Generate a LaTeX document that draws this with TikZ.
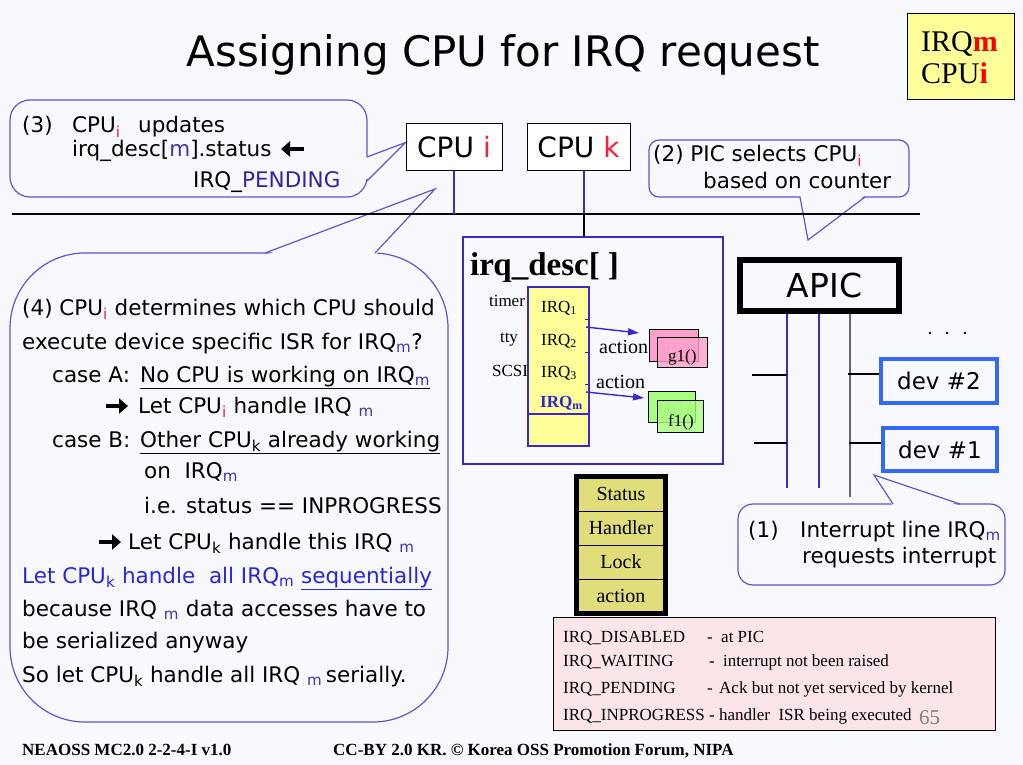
\documentclass[tikz,border=0pt]{standalone}
\usepackage{fontspec}
\setmainfont{DejaVu Sans}
\newfontfamily\tms{Liberation Serif}
\usetikzlibrary{arrows.meta}

\definecolor{bgc}{RGB}{248,249,255}
\definecolor{bubc}{RGB}{95,85,210}
\definecolor{redi}{RGB}{250,30,60}
\definecolor{subm}{RGB}{70,50,180}
\definecolor{txtblue}{RGB}{40,40,215}
\definecolor{pendc}{RGB}{50,35,165}
\definecolor{linblue}{RGB}{60,40,200}
\definecolor{devblue}{RGB}{50,105,250}
\definecolor{lemon}{RGB}{255,255,153}
\definecolor{khaki}{RGB}{224,221,122}
\definecolor{rosebg}{RGB}{251,229,233}
\definecolor{pinkf}{RGB}{255,160,205}
\definecolor{greenf}{RGB}{170,255,130}
\definecolor{pagenum}{RGB}{128,128,128}

\newcommand\subr[1]{\textsubscript{\textcolor{redi}{#1}}}
\newcommand\subb[1]{\textsubscript{\textcolor{subm}{#1}}}
\newcommand\subk[1]{\textsubscript{#1}}

\begin{document}
\begin{tikzpicture}[x=1pt,y=-1pt,
  txt/.style={inner sep=0pt, anchor=base west, font=\fontsize{21.5}{26}\selectfont},
  bub/.style={draw=bubc, line width=1.2pt},
  tailfill/.style={fill=bgc},
  serif/.style={inner sep=0pt, anchor=base west, font=\tms\fontsize{17}{20}\selectfont},
  cpubox/.style={draw=black, fill=white, line width=1pt, inner sep=0pt, font=\fontsize{28}{32}\selectfont},
  devbox/.style={draw=devblue, line width=4pt, inner sep=0pt, font=\fontsize{23}{28}\selectfont},
  wire/.style={line width=1.3pt, linblue},
  flow/.style={line width=1.4pt, linblue, -{Triangle[length=11pt,width=7pt]}},
  heavy/.style={line width=4.5pt, black, -{Triangle[length=9pt,width=15pt]}},
  stack/.style={draw=black, line width=1pt},
  row/.style={inner sep=0pt, font=\tms\fontsize{20}{24}\selectfont}
]
\fill[bgc] (0,0) rectangle (1023,765);
\useasboundingbox (0,0) rectangle (1023,765);

% title
\node[inner sep=0pt, anchor=base, font=\fontsize{42}{48}\selectfont] (title) at (503,67) {Assigning CPU for IRQ request};

% legend in the corner
\node[draw=black, fill=lemon, line width=1pt, minimum width=107pt, minimum height=86pt, inner sep=0pt] (legend) at (960.5,57) {};
\node[inner sep=0pt, anchor=base west, font=\tms\fontsize{30}{34}\selectfont] (legm) at (921,52) {IRQ\textcolor{red}{\textbf{m}}};
\node[inner sep=0pt, anchor=base west, font=\tms\fontsize{30}{34}\selectfont] (legi) at (921,84) {CPU\textcolor{red}{\textbf{i}}};

% ---------- callout (3)
\draw[bub, rounded corners=20pt] (10,100) rectangle (367,197);
\fill[tailfill] (364,157.5) -- (405,153) -- (364,180.5) -- cycle;
\coordinate (t3a) at (367,157);
\coordinate (t3b) at (367,181);
\node[txt] (c3n) at (22,133) {(3)};
\node[txt] (c3a) at (72,133) {CPU\subr{i}};
\node[txt] (c3b) at (138,133) {updates};
\node[txt] (c3c) at (72,157) {irq\_desc[\textcolor{subm}{m}].status};
\coordinate (c3as) at (304,149);
\coordinate (c3ae) at (281,149);
\draw[heavy] (c3as) -- (c3ae);
\node[txt] (c3d) at (193,187) {IRQ\_\textcolor{pendc}{PENDING}};

% ---------- callout (2)
\draw[bub, rounded corners=10pt] (649,140) rectangle (909,197);
\fill[tailfill] (800,195) -- (808,240) -- (865,195) -- cycle;
\coordinate (t2tip) at (808,240);
\draw[bub] (800,197) -- (t2tip) -- (865,197);
\node[txt] (c2a) at (653,162) {(2) PIC selects CPU\subr{i}};
\node[txt] (c2b) at (703,188) {based on counter};

% ---------- callout (1)
\draw[bub, rounded corners=15pt] (738,504) rectangle (1005,585);
\fill[tailfill] (893,506) -- (874,475) -- (960,506) -- cycle;
\coordinate (t1tip) at (874,475);
\draw[bub] (893,504) -- (t1tip) -- (960,504);
\node[txt] (c1n) at (748,537) {(1)};
\node[txt] (c1a) at (800,537) {Interrupt line IRQ\subb{m}};
\node[txt] (c1b) at (802,563) {requests interrupt};

% ---------- callout (4)
\draw[bub, rounded corners=75pt] (10,253) rectangle (448,722);
\fill[tailfill] (265,255.5) -- (435,189) -- (375,255.5) -- cycle;
\coordinate (t4tip) at (435,189);
\draw[bub] (265,253) -- (t4tip) -- (375,253);
\node[txt] (l1) at (22,315) {(4) CPU\subr{i} determines which CPU should};
\node[txt] (l2) at (22,349) {execute device specific ISR for IRQ\subb{m}?};
\node[txt] (l3a) at (52,382) {case A:};
\node[txt] (l3b) at (140,382) {\underline{No CPU is working on IRQ\subb{m}}};
\coordinate (r4s) at (106,406);
\coordinate (r4e) at (128,406);
\draw[heavy] (r4s) -- (r4e);
\node[txt] (l4) at (138,413) {Let CPU\subr{i} handle IRQ \subb{m}};
\node[txt] (l5a) at (52,447) {case B:};
\node[txt] (l5b) at (140,447) {\underline{Other CPU\subk{k} already working}};
\node[txt] (l6) at (144,478) {on\ \ IRQ\subb{m}};
\node[txt] (l7) at (144,513) {i.e. status == INPROGRESS};
\coordinate (r8s) at (99,542);
\coordinate (r8e) at (121,542);
\draw[heavy] (r8s) -- (r8e);
\node[txt] (l8) at (128,549) {Let CPU\subk{k} handle this IRQ \subb{m}};
\node[txt, text=txtblue] (l9) at (22,583) {Let CPU\subk{k} handle\ \ all IRQ\subk{m} \underline{sequentially}};
\node[txt] (l10) at (22,616) {because IRQ \subb{m} data accesses have to};
\node[txt] (l11) at (22,648) {be serialized anyway};
\node[txt] (l12) at (22,682) {So let CPU\subk{k} handle all IRQ \subb{m}\,serially.};

% ---------- CPUs and the bus
\node[cpubox, minimum width=96pt, minimum height=47pt] (cpui) at (454,147.5) {CPU \textcolor{redi}{i}};
\node[cpubox, minimum width=103pt, minimum height=47pt] (cpuk) at (578.5,147.5) {CPU \textcolor{redi}{k}};
\draw[bub] (t3a) -- ([yshift=5pt]cpui.west) -- (t3b);
\coordinate (busL) at (12,214);
\coordinate (busR) at (920,214);
\draw[line width=1.3pt, black] (busL) -- (busR);
\draw[wire] (cpui.south) -- (cpui.south |- busL);

% ---------- irq_desc[]
\node[draw=linblue, line width=1.2pt, minimum width=260pt, minimum height=227pt, inner sep=0pt] (desc) at (593,350.5) {};
\draw[line width=1.2pt, black] ([xshift=5.5pt]cpuk.south) -- ([xshift=5.5pt]cpuk.south |- desc.north);
\draw[wire] ([xshift=5.5pt]cpuk.south) -- ([xshift=5.5pt]cpuk.south |- busL);
\node[inner sep=0pt, anchor=base west, font=\tms\bfseries\fontsize{33}{38}\selectfont] (desct) at (470,275) {irq\_desc[ ]};
\node[draw=linblue, fill=lemon, line width=1.2pt, minimum width=61pt, minimum height=159pt, inner sep=0pt] (col) at (558.5,366.5) {};
\draw[line width=1.2pt, linblue] (col.west |- 0,414) -- (col.east |- 0,414);
\foreach \yy in {319,352,384} \draw[line width=1pt, linblue] (585,\yy) -- (col.east |- 0,\yy);
\node[serif, anchor=base] (ltimer) at (507,306) {timer};
\node[serif, anchor=base] (ltty) at (509,342) {tty};
\node[serif, anchor=base] (lscsi) at (510,376) {SCSI};
\node[serif] (irq1) at (541,312) {IRQ\textsubscript{1}};
\node[serif] (irq2) at (541,345) {IRQ\textsubscript{2}};
\node[serif] (irq3) at (541,377) {IRQ\textsubscript{3}};
\node[serif, text=txtblue, font=\tms\bfseries\fontsize{17}{20}\selectfont] (irqm) at (540,407) {IRQ\textsubscript{m}};

% handler chains: a faint label shows through the front card
\node[draw=black, fill=pinkf, line width=1pt, minimum width=49pt, minimum height=32pt, inner sep=0pt] (gb) at (673.5,345) {};
\node[serif, text=black!35] (gbl) at (662,355) {g1()};
\node[draw=black, fill=pinkf, fill opacity=0.8, line width=1pt, minimum width=50pt, minimum height=30pt, inner sep=0pt] (gf) at (682,352) {};
\node[serif] (gfl) at (668,361) {g1()};
\node[draw=black, fill=greenf, line width=1pt, minimum width=47pt, minimum height=31pt, inner sep=0pt] (fb) at (671.5,406.5) {};
\node[serif, text=black!35] (fbl) at (658,413) {f1()};
\node[draw=black, fill=greenf, fill opacity=0.8, line width=1pt, minimum width=46pt, minimum height=32pt, inner sep=0pt] (ff) at (680,416) {};
\node[serif] (ffl) at (668,426) {f1()};
\coordinate (a1s) at (586,327);
\coordinate (a1e) at (639,333);
\coordinate (a2s) at (586,392);
\coordinate (a2e) at (644,398);
\draw[flow] (a1s) -- (a1e);
\draw[flow] (a2s) -- (a2e);
\node[serif, font=\tms\fontsize{20}{24}\selectfont] (act1) at (599,353) {action};
\node[serif, font=\tms\fontsize{20}{24}\selectfont] (act2) at (596,388) {action};

% ---------- APIC and devices
\node[draw=black, line width=6pt, minimum width=159pt, minimum height=51pt, inner sep=0pt, font=\fontsize{33}{38}\selectfont] (apic) at (819.5,285.5) {\hspace{10pt}APIC};
\draw[line width=1.3pt, black] (apic.north -| 770,0) -- (apic.north -| 770,0 |- busL);
\coordinate (q1) at (787,488);
\coordinate (q2) at (819,488);
\coordinate (q3) at (850,497);
\draw[wire] (q1 |- apic.south) -- (q1);
\draw[wire] (q2 |- apic.south) -- (q2);
\draw[line width=2pt, black!60] (q3 |- apic.south) -- (q3);
\coordinate (h1) at (752,375);
\coordinate (h2) at (754,443);
\draw[line width=1.2pt] (h1) -- (h1 -| q1);
\draw[line width=1.2pt] (h2) -- (h2 -| q1);
\node[devbox, minimum width=116pt, minimum height=44pt] (dev2) at (939,381) {dev \#2};
\node[devbox, minimum width=114pt, minimum height=43pt] (dev1) at (940,449.5) {dev \#1};
\coordinate (d2a) at (848,374);
\coordinate (d1a) at (849,443);
\draw[line width=1.2pt] (d2a) -- (d2a -| dev2.west);
\draw[line width=1.2pt] (d1a) -- (d1a -| dev1.west);
\foreach \xx in {930,947,965} \fill (\xx,333) circle (1.3pt);

% ---------- irq_desc fields
\node[draw=black, fill=khaki, line width=5pt, minimum width=89pt, minimum height=137pt, inner sep=0pt] (fields) at (621,545) {};
\draw[stack] (fields.west |- 0,511) -- (fields.east |- 0,511);
\draw[stack] (fields.west |- 0,545) -- (fields.east |- 0,545);
\draw[stack] (fields.west |- 0,579) -- (fields.east |- 0,579);
\node[row] (fstat) at (621,494) {Status};
\node[row] (fhand) at (621,528) {Handler};
\node[row] (flock) at (621,562) {Lock};
\node[row] (fact) at (621,596) {action};

% ---------- status flags
\node[draw=black, fill=rosebg, line width=1pt, minimum width=442pt, minimum height=113pt, inner sep=0pt] (flags) at (774,673.5) {};
\begin{scope}[every node/.style={inner sep=0pt, anchor=base west, font=\tms\fontsize{17}{20}\selectfont}]
\node (s1) at (563,642) {IRQ\_DISABLED};
\node (s1m) at (707,642) {-};
\node (s1d) at (721,642) {at PIC};
\node (s2) at (563,666) {IRQ\_WAITING};
\node (s2m) at (709,666) {-};
\node (s2d) at (723,666) {interrupt not been raised};
\node (s3) at (563,693) {IRQ\_PENDING};
\node (s3m) at (707,693) {-};
\node (s3d) at (719,693) {Ack but not yet serviced by kernel};
\node (s4) at (563,720) {IRQ\_INPROGRESS - handler\ \ ISR being executed};
\end{scope}
\node[inner sep=0pt, anchor=base west, text=pagenum, font=\tms\fontsize{21}{24}\selectfont] (pnum) at (919,724) {65};

% ---------- footer
\node[inner sep=0pt, anchor=base west, font=\tms\bfseries\fontsize{17}{20}\selectfont] (foot1) at (22,755) {NEAOSS MC2.0 2-2-4-I v1.0};
\node[inner sep=0pt, anchor=base west, font=\tms\bfseries\fontsize{17}{20}\selectfont] (foot2) at (333,755) {CC-BY 2.0 KR. \textcopyright{} Korea OSS Promotion Forum, NIPA};
\end{tikzpicture}
\end{document}
